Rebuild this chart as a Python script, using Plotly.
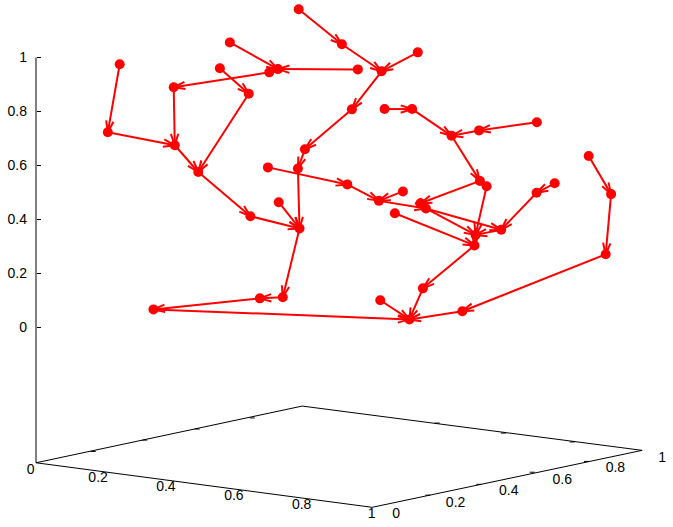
import numpy as np
import plotly.graph_objects as go

# Projected node positions, in z-axis units (x = across the page from the z axis, y = height above z=0)
node_x = [.310,.266,.514,.510,.864,.896,.718,.681,.788,.601,
          .973,1.133,1.280,1.414,1.192,1.170,.996,.970,1.291,1.393,
          1.539,1.641,1.855,1.644,1.669,1.359,1.270,1.424,1.444,1.329,
          1.628,1.624,1.723,1.854,1.921,2.047,2.130,2.110,1.579,1.383,
          1.433,1.275,.859,1.153,.899,.976,.794,.914,.829,.435]
node_y = [.975,.723,.675,.890,.945,.957,1.056,.960,.866,.576,
          1.179,1.049,.949,1.019,.956,.808,.660,.589,.809,.809,
          .710,.730,.760,.543,.523,.504,.469,.460,.441,.423,
          .343,.304,.362,.499,.534,.635,.494,.271,.060,.030,
          .145,.101,.593,.530,.464,.367,.412,.112,.108,.067]
# Directed edges between node indices
edge_from = [0,1,3,2,8,7,4,5,6,14,10,11,13,12,15,16,17,44,46,9,45,47,48,49,
             38,37,36,35,41,40,31,29,30,32,28,28,33,34,23,20,23,24,19,18,21,22,25,43,42,26,27]
edge_to   = [1,2,2,9,9,8,3,4,5,5,11,12,12,15,16,17,45,45,45,46,47,48,49,39,
             39,38,37,36,39,39,40,31,31,30,30,32,32,33,27,23,24,30,20,19,20,21,26,26,43,28,28]

z_ticks = [0, 0.2, 0.4, 0.6, 0.8, 1]
tick_text = ["0", "0.2", "0.4", "0.6", "0.8", "1"]
xlabel_x = [-.020,.230,.481,.733,.984,1.243]
xlabel_y = [-.529,-.558,-.591,-.625,-.659,-.691]
ylabel_x = [1.334,1.554,1.751,1.949,2.146,2.319]
ylabel_y = [-.691,-.650,-.609,-.566,-.524,-.484]
base_x = [0,1.245,2.245,.986,0]
base_y = [-.501,-.666,-.455,-.291,-.501]
z_line_x = [0, 0]
z_line_y = [-.501, 1]
base_tick_x = [.212,.403,.597,.801,1.451,1.640,1.838,2.039,1.486,1.731,1.986]
base_tick_y = [-.459,-.417,-.376,-.335,-.621,-.581,-.536,-.496,-.354,-.391,-.424]

UNIT_PX = 270.0
HEAD_LEN = 12 / UNIT_PX
HEAD_ANG = np.radians(18)
RED = "#ff0000"

nx, ny = np.array(node_x), np.array(node_y)
lx, ly = [], []
for a, b in zip(edge_from, edge_to):
    x0, y0, x1, y1 = nx[a], ny[a], nx[b], ny[b]
    lx += [x0, x1, None]
    ly += [y0, y1, None]
    th = np.arctan2(y0 - y1, x0 - x1)
    for s in (-1, 1):
        lx += [x1 + HEAD_LEN*np.cos(th + s*HEAD_ANG), x1, None]
        ly += [y1 + HEAD_LEN*np.sin(th + s*HEAD_ANG), y1, None]

tx, ty = [], []
for x, y in zip(base_tick_x, base_tick_y):
    tx += [x - 2.5/UNIT_PX, x + 2.5/UNIT_PX, None]
    ty += [y, y, None]

fig = go.Figure()
fig.add_trace(go.Scatter(x=z_line_x, y=z_line_y, mode="lines", line=dict(color="black", width=1), cliponaxis=False))
fig.add_trace(go.Scatter(x=base_x, y=base_y, mode="lines", line=dict(color="black", width=1), cliponaxis=False))
fig.add_trace(go.Scatter(x=tx, y=ty, mode="lines", line=dict(color="black", width=1), cliponaxis=False))
fig.add_trace(go.Scatter(x=lx, y=ly, mode="lines", line=dict(color=RED, width=2), cliponaxis=False))
fig.add_trace(go.Scatter(x=node_x, y=node_y, mode="markers", marker=dict(color=RED, size=10), cliponaxis=False))
for xs, ys in ((xlabel_x, xlabel_y), (ylabel_x, ylabel_y)):
    fig.add_trace(go.Scatter(x=xs, y=ys, mode="text", text=tick_text, textposition="middle center",
                             textfont=dict(family="Liberation Sans", size=14, color="black"), cliponaxis=False))

fig.update_layout(
    width=673, height=527, showlegend=False,
    margin=dict(l=0, r=0, t=0, b=0, pad=0),
    paper_bgcolor="white", plot_bgcolor="white",
    xaxis=dict(visible=False, range=[-36/UNIT_PX, 637/UNIT_PX], showgrid=False, zeroline=False),
    yaxis=dict(range=[-199.5/UNIT_PX, 327.5/UNIT_PX], tickvals=z_ticks, ticktext=tick_text, ticks="inside", ticklen=4,
               anchor="free", position=36/673,
               tickcolor="black", tickwidth=1, showline=False,
               showgrid=False, zeroline=False, ticklabelstandoff=9,
               tickfont=dict(family="Liberation Sans", size=14, color="black")),
)
fig.write_html("out.html", config=dict(displayModeBar=False),
               post_script="document.body.style.margin='0';")
